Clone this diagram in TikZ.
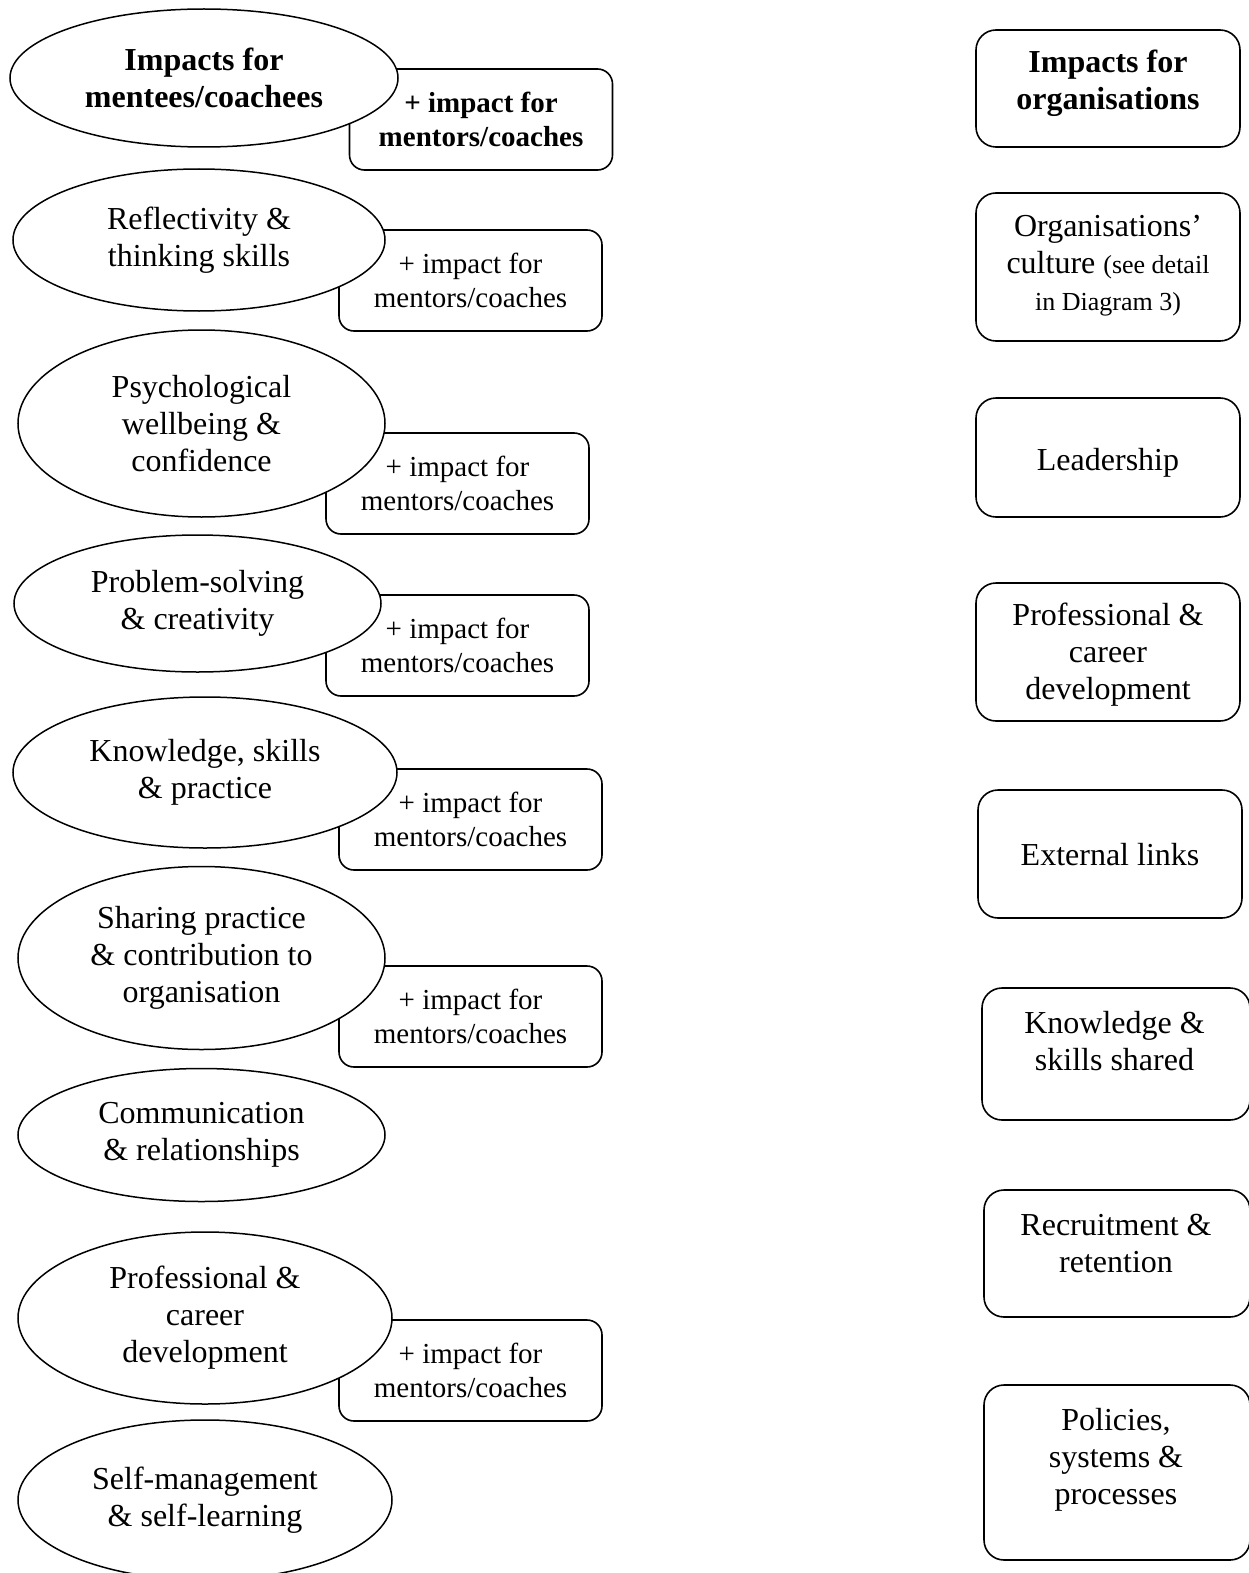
\documentclass[tikz,border=0pt]{standalone}
\usepackage{fontspec}
\setmainfont{Liberation Serif}
\usetikzlibrary{shapes.geometric}

\begin{document}
\begin{tikzpicture}[x=1pt,y=-1pt,
  impact/.style={ellipse,draw,fill=white,line width=1.5pt,inner sep=0pt,align=center,
    font=\fontsize{32}{37}\selectfont},
  plusbox/.style={draw,rounded corners=15pt,line width=1.6pt,minimum width=263pt,
    minimum height=101pt,align=center,font=\fontsize{29}{34.5}\selectfont},
  orgbox/.style={draw,rounded corners=20pt,line width=1.6pt,minimum width=264pt},
  orgtext/.style={align=center,font=\fontsize{32}{37}\selectfont}]
  \useasboundingbox (0,0) rectangle (1248,1573);
  % Left-hand side: the + impact boxes sit behind the ellipses
  \node[plusbox] (plus0) at (481,119.5) {\textbf{+ impact for}\\\textbf{mentors/coaches}};
  \node[plusbox] (plus1) at (470.5,280.5) {+ impact for\\mentors/coaches};
  \node[plusbox] (plus2) at (457.5,483.5) {+ impact for\\mentors/coaches};
  \node[plusbox] (plus3) at (457.5,645.5) {+ impact for\\mentors/coaches};
  \node[plusbox] (plus4) at (470.5,819.5) {+ impact for\\mentors/coaches};
  \node[plusbox] (plus5) at (470.5,1016.5) {+ impact for\\mentors/coaches};
  \node[plusbox] (plus7) at (470.5,1370.5) {+ impact for\\mentors/coaches};
  % impacts for mentees/coachees
  \node[impact,minimum width=388pt,minimum height=138pt] (mentees)    at (204,78)
        {\textbf{Impacts for}\\\textbf{mentees/coachees}};
  \node[impact,minimum width=372pt,minimum height=142pt] (reflect)    at (199,240)
        {Reflectivity \&\\thinking skills};
  \node[impact,minimum width=367pt,minimum height=187pt] (wellbeing)  at (201.5,423.5)
        {Psychological\\wellbeing \&\\confidence};
  \node[impact,minimum width=367pt,minimum height=137pt] (problem)    at (197.5,603.5)
        {Problem-solving\\\& creativity};
  \node[impact,minimum width=384pt,minimum height=151pt] (knowledge)  at (205,772.5)
        {Knowledge, skills\\\& practice};
  \node[impact,minimum width=367pt,minimum height=183pt] (sharing)    at (201.5,958)
        {Sharing practice\\\& contribution to\\organisation};
  \node[impact,minimum width=367pt,minimum height=133pt] (communic)   at (201.5,1135)
        {Communication\\\& relationships};
  \node[impact,minimum width=374pt,minimum height=172pt] (career)     at (205,1318)
        {Professional \&\\career\\development};
  \node[impact,minimum width=374pt,minimum height=160pt] (selfmanage) at (205,1500)
        {Self-management\\\& self-learning};
  % Right-hand side: impacts for organisations
  \node[orgbox,minimum height=117pt] (orgs) at (1108,88.5) {};
  \node[orgtext] (orgstxt) at (1108,83.5) {\textbf{Impacts for}\\\textbf{organisations}};
  \node[orgbox,minimum height=148pt] (culture) at (1108,267) {};
  \node[orgtext] (culturetxt) at (1108,266)
        {Organisations’\\culture {\fontsize{26}{34}\selectfont (see detail}\\{\fontsize{26}{34}\selectfont in Diagram 3)}};
  \node[orgbox,minimum height=119pt] (leader) at (1108,457.5) {};
  \node[orgtext] (leadertxt) at (1108,463) {Leadership};
  \node[orgbox,minimum height=138pt] (orgcareer) at (1108,652) {};
  \node[orgtext] (orgcareertxt) at (1108,654.5) {Professional \&\\career\\development};
  \node[orgbox,minimum height=128pt] (links) at (1110,854) {};
  \node[orgtext] (linkstxt) at (1110,855) {External links};
  \node[orgbox,minimum height=132pt,minimum width=268pt] (shared) at (1116,1054) {};
  \node[orgtext] (sharedtxt) at (1114.5,1041) {Knowledge \&\\skills shared};
  \node[orgbox,minimum height=127pt,minimum width=266pt] (recruit) at (1117,1253.5) {};
  \node[orgtext] (recruittxt) at (1116,1243.5) {Recruitment \&\\retention};
  \node[orgbox,minimum height=175pt,minimum width=266pt] (policies) at (1117,1472.5) {};
  \node[orgtext] (policiestxt) at (1116,1459.5) {Policies,\\systems \&\\processes};
\end{tikzpicture}
\end{document}
